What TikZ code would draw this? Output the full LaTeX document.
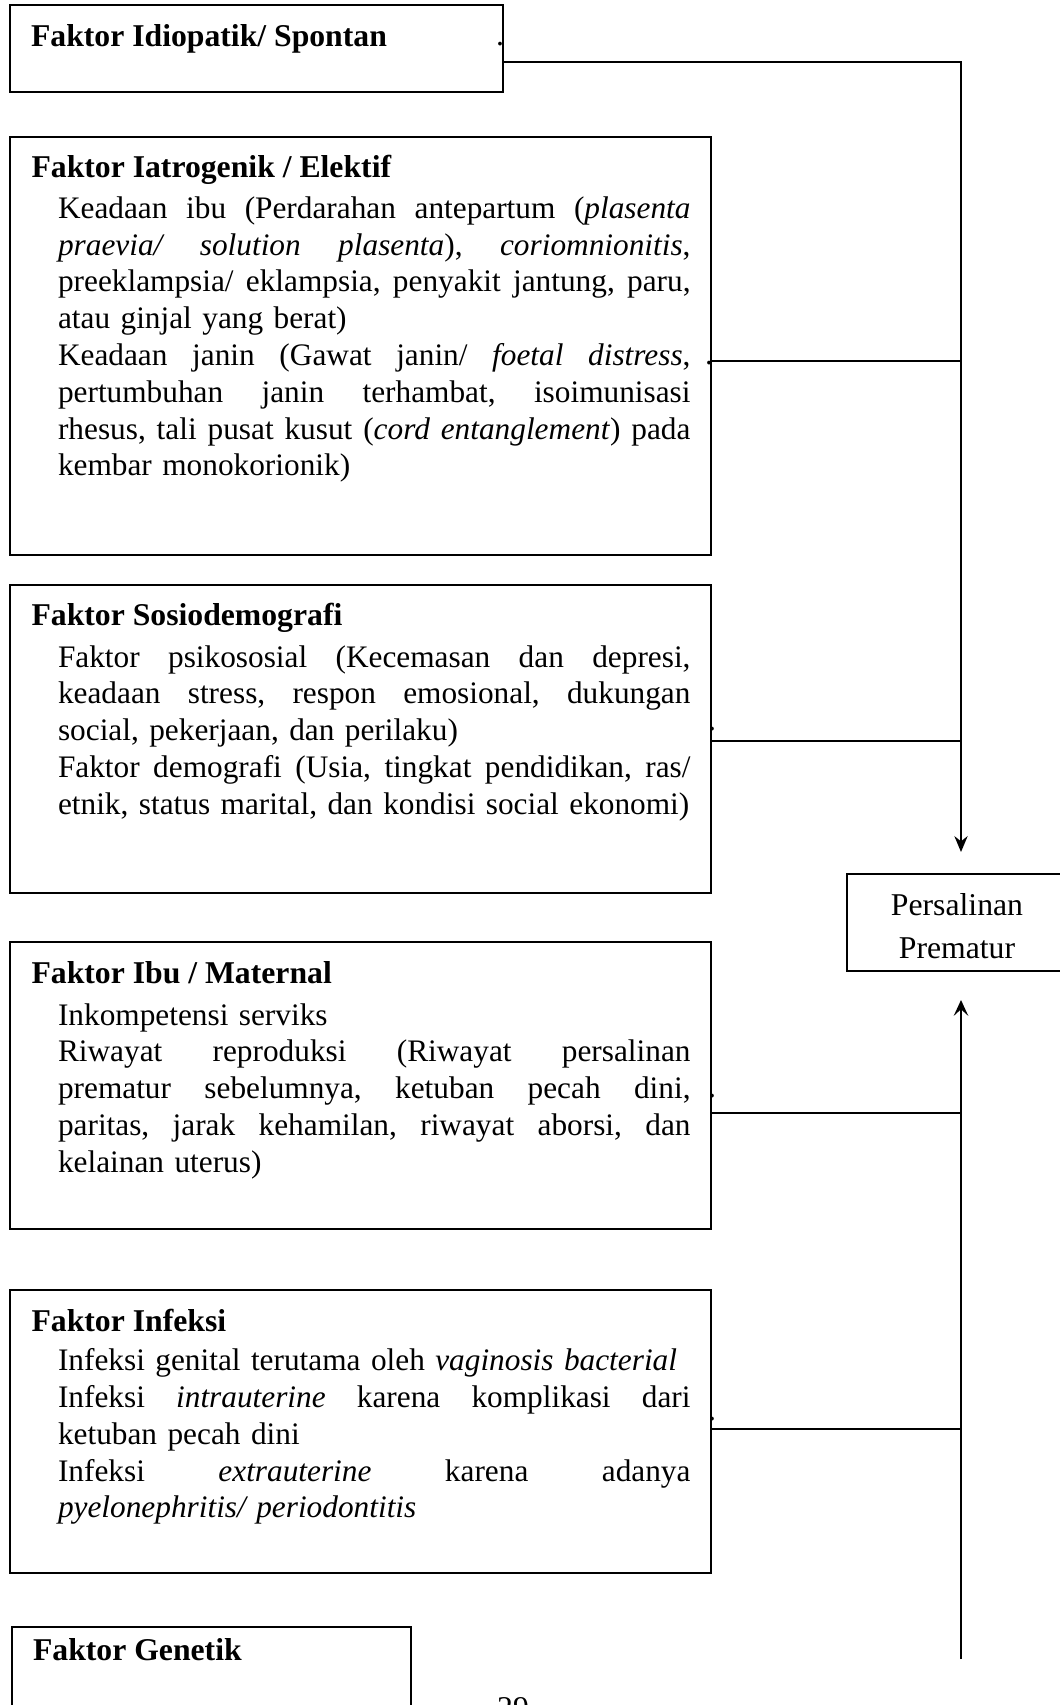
\documentclass[tikz,border=0pt]{standalone}
\usepackage{fontspec}
\setmainfont{Liberation Serif}
\usetikzlibrary{arrows.meta,fit}
\newlength{\bodyw}
\setlength{\bodyw}{239.4pt}
\newcommand{\jl}[1]{\hbox to\bodyw{\frenchspacing\spaceskip=0.25em plus 1fil minus 0.05em\relax #1}}
\newcommand{\lastl}[1]{\hbox to\bodyw{#1\hfil}}
\begin{document}
\begin{tikzpicture}[x=0.3785pt,y=-0.3785pt,
  box/.style={draw,line width=0.75pt,inner sep=0pt},
  ttl/.style={anchor=base west,inner sep=0pt,font=\fontsize{12}{13.93}\selectfont\bfseries},
  body/.style={anchor=base west,inner sep=0pt,text width=260pt,align=left,font=\fontsize{11.85}{13.93}\selectfont},
  dotmark/.style={anchor=base,inner sep=0pt,font=\fontsize{12}{13.93}\selectfont},
  conn/.style={line width=0.75pt},
  tipdown/.style={-{Stealth[length=6pt,width=5pt]}},
  tipup/.style={-{Stealth[length=6pt,width=5.5pt,inset=2.5pt]}}]
\useasboundingbox (0,0) rectangle (1059,1705);

% boxes
\node[box,fit={(10,5) (503,92)}] (b1) {};
\node[box,fit={(10,137) (711,555)}] (b2) {};
\node[box,fit={(10,585) (711,893)}] (b3) {};
\node[box,fit={(10,942) (711,1229)}] (b4) {};
\node[box,fit={(10,1290) (711,1573)}] (b5) {};
\node[box,fit={(12,1627) (411,1720)}] (b6) {};
\node[box,fit={(847,874) (1067,971)}] (pp) {};

% box 1
\node[ttl] (t1) at (30.5,46.7) {Faktor Idiopatik/ Spontan};
\node[dotmark] (d1) at (500,46) {.};

% box 2
\node[ttl] (t2) at (31,178) {Faktor Iatrogenik / Elektif};
\node[body] (c2) at (57.5,218.3) {%
\jl{Keadaan ibu (Perdarahan antepartum (\textit{plasenta}}
\jl{\textit{praevia/ solution plasenta}), \textit{coriomnionitis},}
\jl{preeklampsia/ eklampsia, penyakit jantung, paru,}
\lastl{atau ginjal yang berat)}
\jl{Keadaan janin (Gawat janin/ \textit{foetal distress},}
\jl{pertumbuhan janin terhambat, isoimunisasi}
\jl{rhesus, tali pusat kusut (\textit{cord entanglement}) pada}
\lastl{kembar monokorionik)}};
\node[dotmark] (d2) at (709,364) {.};

% box 3
\node[ttl] (t3) at (31,625.7) {Faktor Sosiodemografi};
\node[body] (c3) at (57.5,667) {%
\jl{Faktor psikososial (Kecemasan dan depresi,}
\jl{keadaan stress, respon emosional, dukungan}
\lastl{social, pekerjaan, dan perilaku)}
\jl{Faktor demografi (Usia, tingkat pendidikan, ras/}
\lastl{etnik, status marital, dan kondisi social ekonomi)}};
\node[dotmark] (d3) at (712,730) {.};

% box 4
\node[ttl] (t4) at (31,983) {Faktor Ibu / Maternal};
\node[body] (c4) at (57.5,1025) {%
\lastl{Inkompetensi serviks}
\jl{Riwayat reproduksi (Riwayat persalinan}
\jl{prematur sebelumnya, ketuban pecah dini,}
\jl{paritas, jarak kehamilan, riwayat aborsi, dan}
\lastl{kelainan uterus)}};
\node[dotmark] (d4) at (712,1097) {.};

% box 5
\node[ttl] (t5) at (31,1331) {Faktor Infeksi};
\node[body] (c5) at (57.5,1370.7) {%
\lastl{Infeksi genital terutama oleh \textit{vaginosis bacterial}}
\jl{Infeksi \textit{intrauterine} karena komplikasi dari}
\lastl{ketuban pecah dini}
\jl{Infeksi \textit{extrauterine} karena adanya}
\lastl{\textit{pyelonephritis/ periodontitis}}};
\node[dotmark] (d5) at (712,1420) {.};

% box 6
\node[ttl] (t6) at (32.5,1660) {Faktor Genetik};

% result box text
\node[anchor=base,inner sep=0pt,text width=80pt,align=center,font=\fontsize{12}{16.3}\selectfont] (ppt) at (957,915) {Persalinan\\Prematur};

% page number
\node[dotmark] (pg) at (513,1718) {29};

% connectors
\coordinate (j1) at (961,62);
\coordinate (j2) at (961,361);
\coordinate (j3) at (961,741);
\coordinate (j4) at (961,1113);
\coordinate (j5) at (961,1429);
\coordinate (j6) at (961,1659);
\coordinate (tipA) at (961,852);
\coordinate (tipB) at (961,1000);

\draw[conn,tipdown] (b1.east |- j1) -- (j1) -- (tipA);
\draw[conn] (b2.east |- j2) -- (j2);
\draw[conn] (b3.east |- j3) -- (j3);
\draw[conn] (b4.east |- j4) -- (j4);
\draw[conn] (b5.east |- j5) -- (j5);
\draw[conn,tipup] (j6) -- (tipB);
\end{tikzpicture}
\end{document}
